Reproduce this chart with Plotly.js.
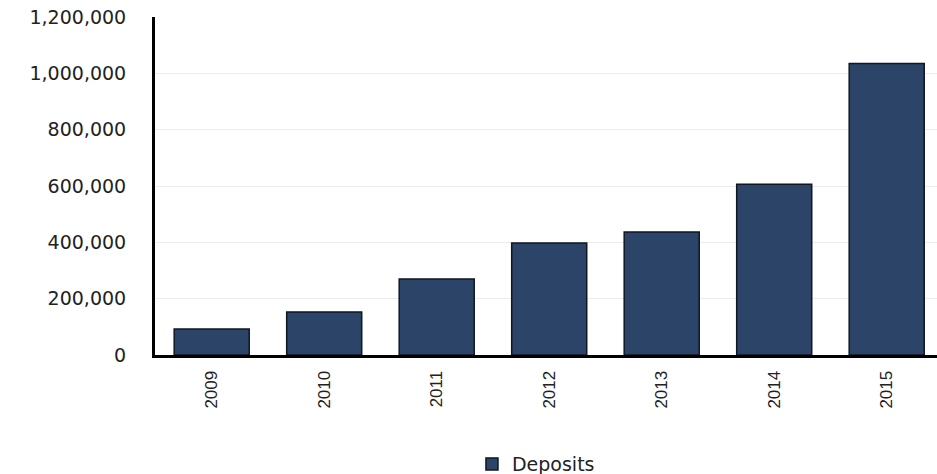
<!DOCTYPE html>
<html>
<head>
<meta charset="utf-8">
<script src="https://cdn.plot.ly/plotly-3.0.1.min.js"></script>
<style>
  html, body { margin: 0; padding: 0; background: #fff; }
  #chart { width: 937px; height: 474px; }
</style>
</head>
<body>
<div id="chart"></div>
<script>
const years = ['2009', '2010', '2011', '2012', '2013', '2014', '2015'];
const deposits = [92000, 153000, 270000, 398000, 437000, 606000, 1035000];
const yTickVals = [0, 200000, 400000, 600000, 800000, 1000000, 1200000];
const yTickText = ['0', '200,000', '400,000', '600,000', '800,000', '1,000,000', '1,200,000'];
const seriesName = 'Deposits';

const trace = {
  type: 'bar',
  x: years,
  y: deposits,
  name: seriesName,
  showlegend: true,
  marker: {
    color: '#2b4468',
    line: { color: '#0f1722', width: 1.5 }
  },
  hoverinfo: 'x+y'
};

const layout = {
  width: 937,
  height: 474,
  margin: { l: 155, r: 0, t: 17, b: 119, pad: 0, autoexpand: false },
  paper_bgcolor: '#ffffff',
  plot_bgcolor: '#ffffff',
  bargap: 0.333,
  showlegend: true,
  legend: {
    orientation: 'h',
    xref: 'container', yref: 'container',
    x: 0.572, xanchor: 'center',
    y: 0.021, yanchor: 'middle',
    font: { family: 'DejaVu Sans, sans-serif', size: 19, color: '#222' },
    itemwidth: 30
  },
  xaxis: {
    type: 'category',
    range: [-0.504, 6.447],
    tickangle: -90,
    tickfont: { family: 'Liberation Sans, Arial, sans-serif', size: 17, color: '#222' },
    showline: true,
    linecolor: '#000',
    linewidth: 3,
    showgrid: false,
    ticks: '',
    ticklabelstandoff: 6,
    zeroline: false,
    fixedrange: true
  },
  yaxis: {
    range: [0, 1200000],
    tickvals: yTickVals,
    ticktext: yTickText,
    tickfont: { family: 'DejaVu Sans, sans-serif', size: 19, color: '#222' },
    showline: true,
    linecolor: '#000',
    linewidth: 3,
    showgrid: true,
    gridcolor: '#ececec',
    gridwidth: 1,
    zeroline: false,
    ticks: '',
    ticklabelstandoff: 22,
    fixedrange: true
  }
};

Plotly.newPlot('chart', [trace], layout, { displayModeBar: false, staticPlot: true });
</script>
</body>
</html>
